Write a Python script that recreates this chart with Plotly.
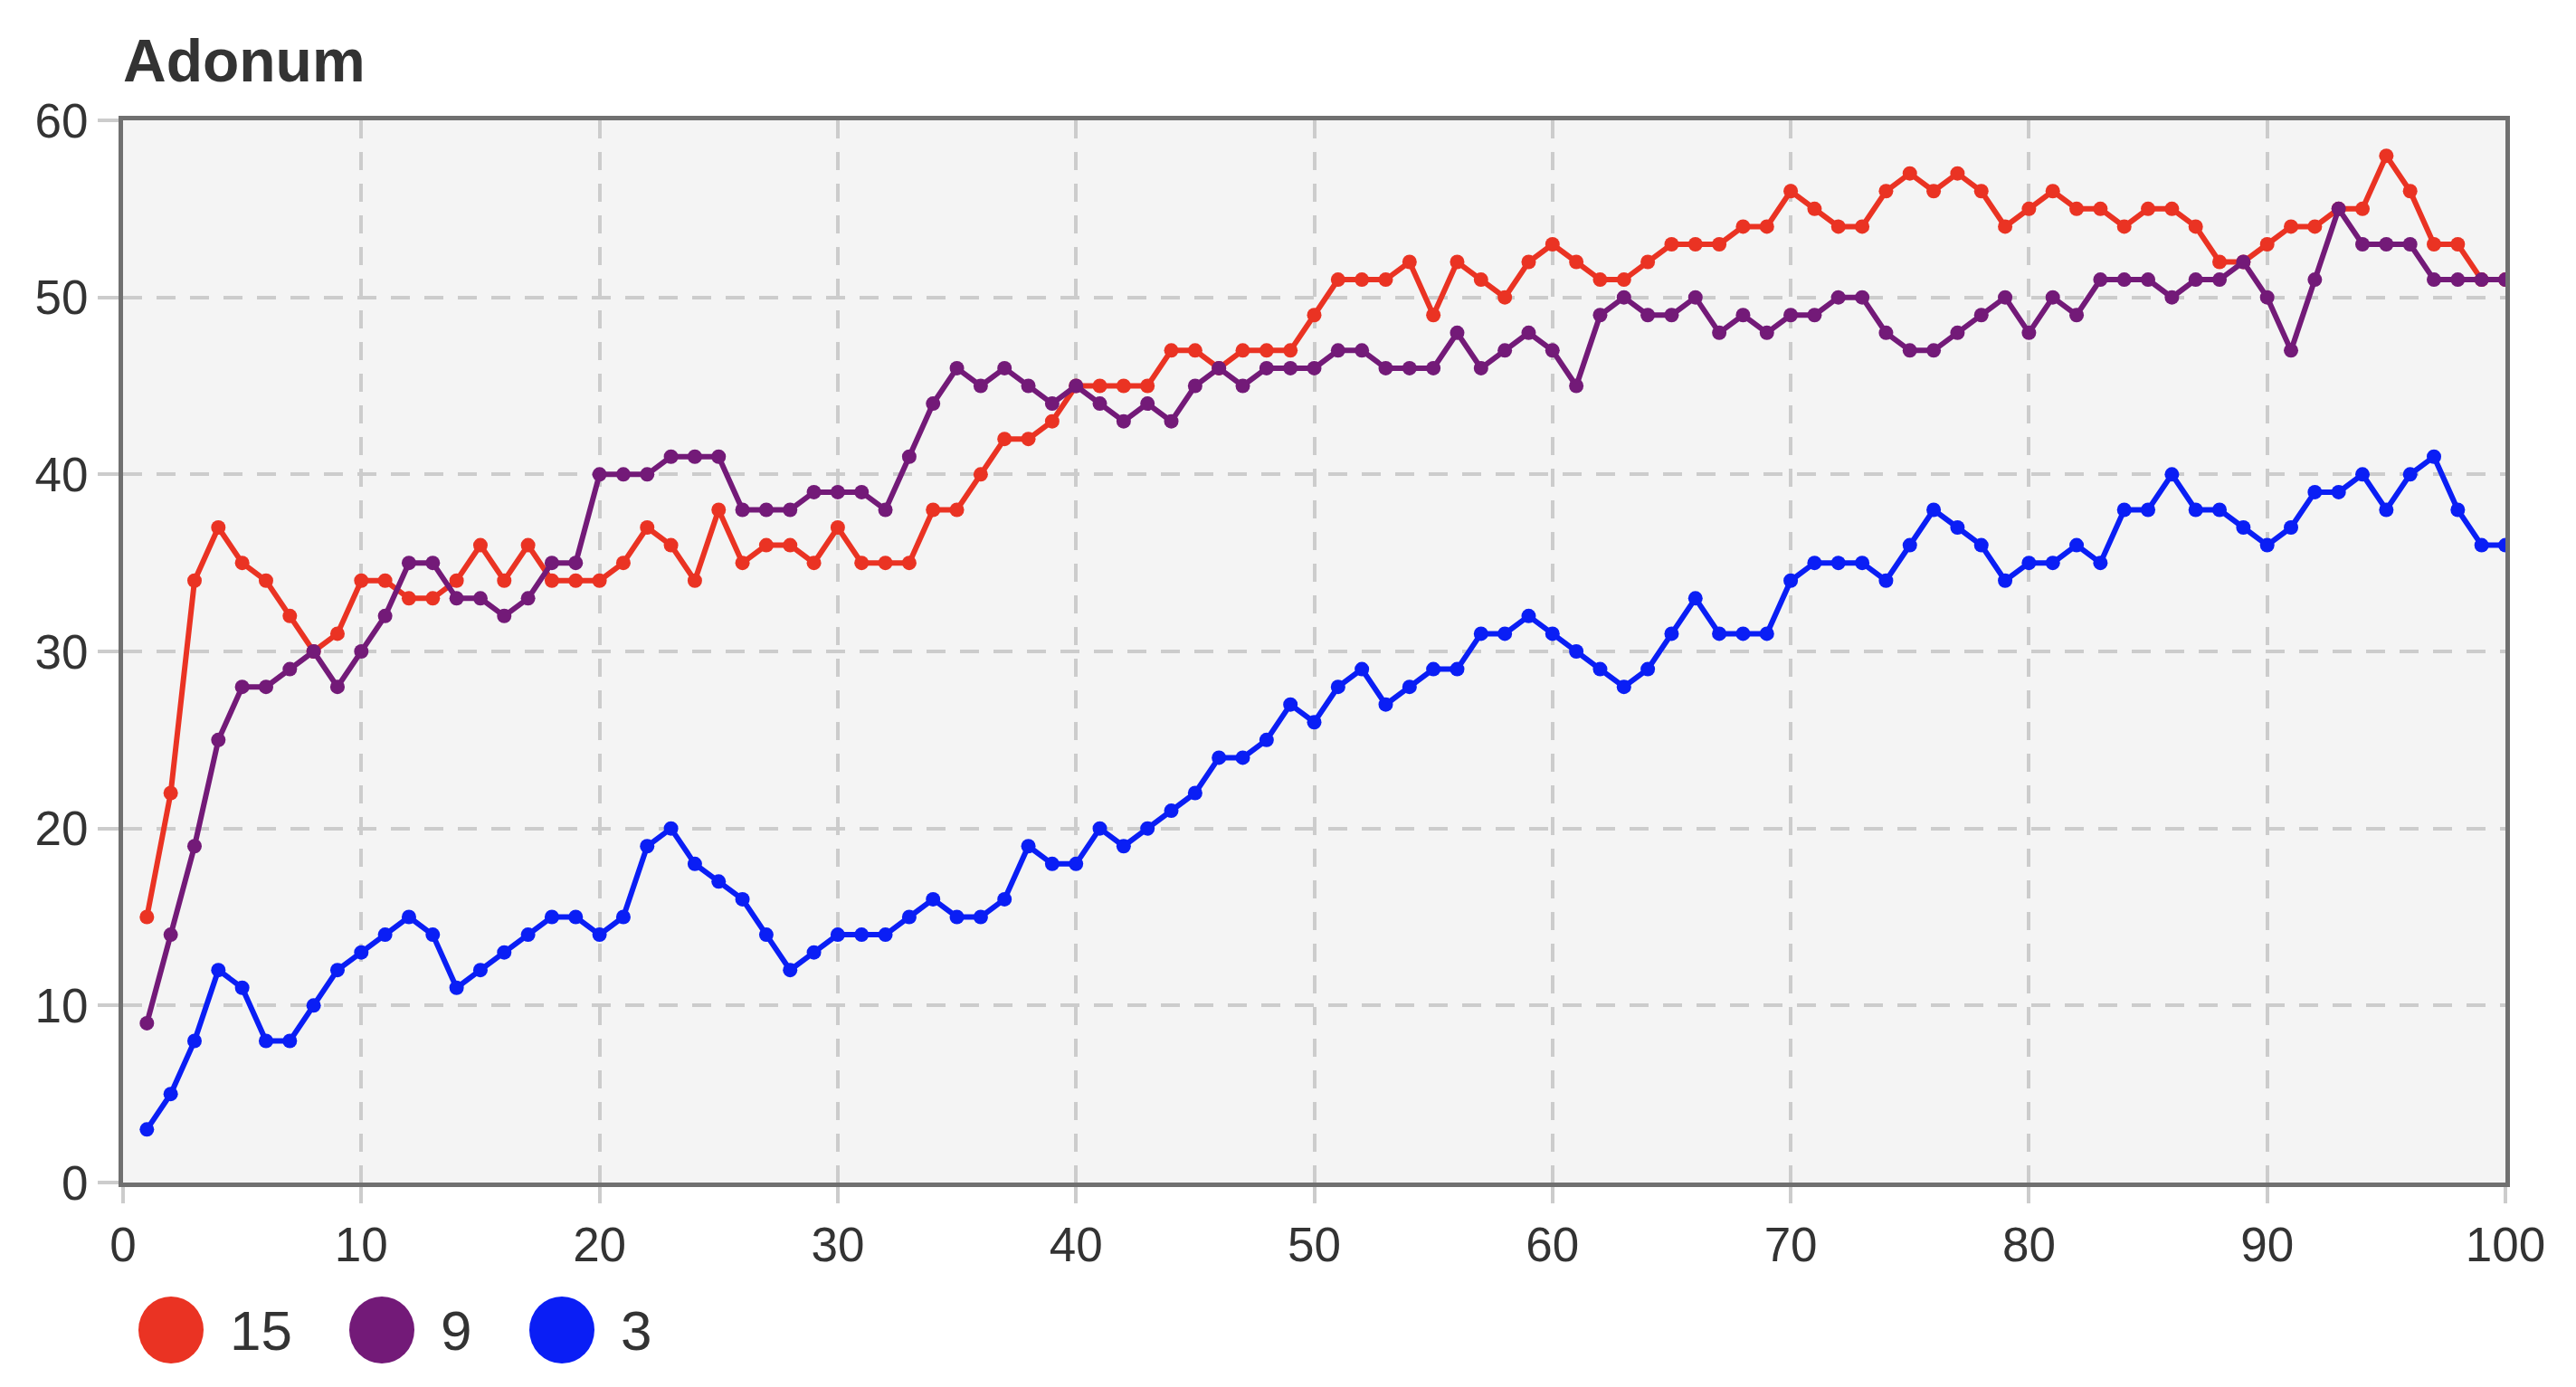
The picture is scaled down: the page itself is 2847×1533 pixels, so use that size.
import plotly.graph_objects as go

TITLE = "Adonum"
x_values = list(range(1, 101))

series_names = ["15", "9", "3"]
series_colors = ["#ea3323", "#731a78", "#0a1ef5"]

red_15 = [15, 22, 34, 37, 35, 34, 32, 30, 31, 34,
          34, 33, 33, 34, 36, 34, 36, 34, 34, 34,
          35, 37, 36, 34, 38, 35, 36, 36, 35, 37,
          35, 35, 35, 38, 38, 40, 42, 42, 43, 45,
          45, 45, 45, 47, 47, 46, 47, 47, 47, 49,
          51, 51, 51, 52, 49, 52, 51, 50, 52, 53,
          52, 51, 51, 52, 53, 53, 53, 54, 54, 56,
          55, 54, 54, 56, 57, 56, 57, 56, 54, 55,
          56, 55, 55, 54, 55, 55, 54, 52, 52, 53,
          54, 54, 55, 55, 58, 56, 53, 53, 51, 51]

purple_9 = [9, 14, 19, 25, 28, 28, 29, 30, 28, 30,
            32, 35, 35, 33, 33, 32, 33, 35, 35, 40,
            40, 40, 41, 41, 41, 38, 38, 38, 39, 39,
            39, 38, 41, 44, 46, 45, 46, 45, 44, 45,
            44, 43, 44, 43, 45, 46, 45, 46, 46, 46,
            47, 47, 46, 46, 46, 48, 46, 47, 48, 47,
            45, 49, 50, 49, 49, 50, 48, 49, 48, 49,
            49, 50, 50, 48, 47, 47, 48, 49, 50, 48,
            50, 49, 51, 51, 51, 50, 51, 51, 52, 50,
            47, 51, 55, 53, 53, 53, 51, 51, 51, 51]

blue_3 = [3, 5, 8, 12, 11, 8, 8, 10, 12, 13,
          14, 15, 14, 11, 12, 13, 14, 15, 15, 14,
          15, 19, 20, 18, 17, 16, 14, 12, 13, 14,
          14, 14, 15, 16, 15, 15, 16, 19, 18, 18,
          20, 19, 20, 21, 22, 24, 24, 25, 27, 26,
          28, 29, 27, 28, 29, 29, 31, 31, 32, 31,
          30, 29, 28, 29, 31, 33, 31, 31, 31, 34,
          35, 35, 35, 34, 36, 38, 37, 36, 34, 35,
          35, 36, 35, 38, 38, 40, 38, 38, 37, 36,
          37, 39, 39, 40, 38, 40, 41, 38, 36, 36]

x_ticks = list(range(0, 101, 10))
y_ticks = list(range(0, 61, 10))

FONT = "Liberation Sans, Arial, Helvetica, sans-serif"
TEXT = "#333333"
GRID = "#cccccc"

fig = go.Figure()
for name, color, ys in zip(series_names, series_colors, [red_15, purple_9, blue_3]):
    fig.add_trace(go.Scatter(
        x=x_values, y=ys, name=name, mode="lines+markers",
        line={"color": color, "width": 6},
        marker={"color": color, "size": 16},
        showlegend=False,
    ))

# page body has an 8px margin, so the figure is 8px smaller than the window
W, H = 2839, 1525
L, R, T, B = 128, 78, 125, 226
pw, ph = W - L - R, H - T - B

# hand-made legend: big dots with labels below the x axis
leg_y = -(1462 - (H - B)) / ph
start = 145
for name, color in zip(series_names, series_colors):
    cx = (start + 36 - L) / pw
    fig.add_shape(type="circle", xref="paper", yref="paper",
                  xsizemode="pixel", ysizemode="pixel",
                  xanchor=cx, yanchor=leg_y,
                  x0=-36, x1=36, y0=-37, y1=37,
                  fillcolor=color, line={"width": 0})
    tx = start + 73 + 26
    fig.add_annotation(text=name, xref="paper", yref="paper",
                       x=(tx - L) / pw, y=leg_y, xanchor="left", yanchor="middle",
                       showarrow=False, font={"size": 62, "color": TEXT, "family": FONT})
    start = tx + len(name) * 34 + 66

axis_common = dict(
    showline=True, mirror=True, linecolor="#707070", linewidth=5,
    showgrid=True, gridcolor=GRID, gridwidth=4,
    ticks="outside", tickwidth=4, tickcolor=GRID,
    zeroline=False,
    tickfont={"size": 53, "color": TEXT, "family": FONT},
)

fig.update_xaxes(range=[0, 100], tickvals=x_ticks, griddash="20px,15px",
                 ticklen=18, **axis_common)
fig.update_yaxes(range=[0, 60], tickvals=y_ticks, griddash="21px,16px",
                 ticklen=23, **axis_common)

fig.update_layout(
    width=W, height=H,
    margin={"l": L, "r": R, "t": T, "b": B},
    title={"text": "<b>" + TITLE + "</b>", "x": L / W, "xanchor": "left",
           "y": 1 - 59 / H, "yanchor": "middle",
           "font": {"size": 66, "color": TEXT, "family": FONT}},
    plot_bgcolor="#f4f4f4",
    paper_bgcolor="#ffffff",
    font={"family": FONT, "color": TEXT},
)

fig.write_html("out.html")
